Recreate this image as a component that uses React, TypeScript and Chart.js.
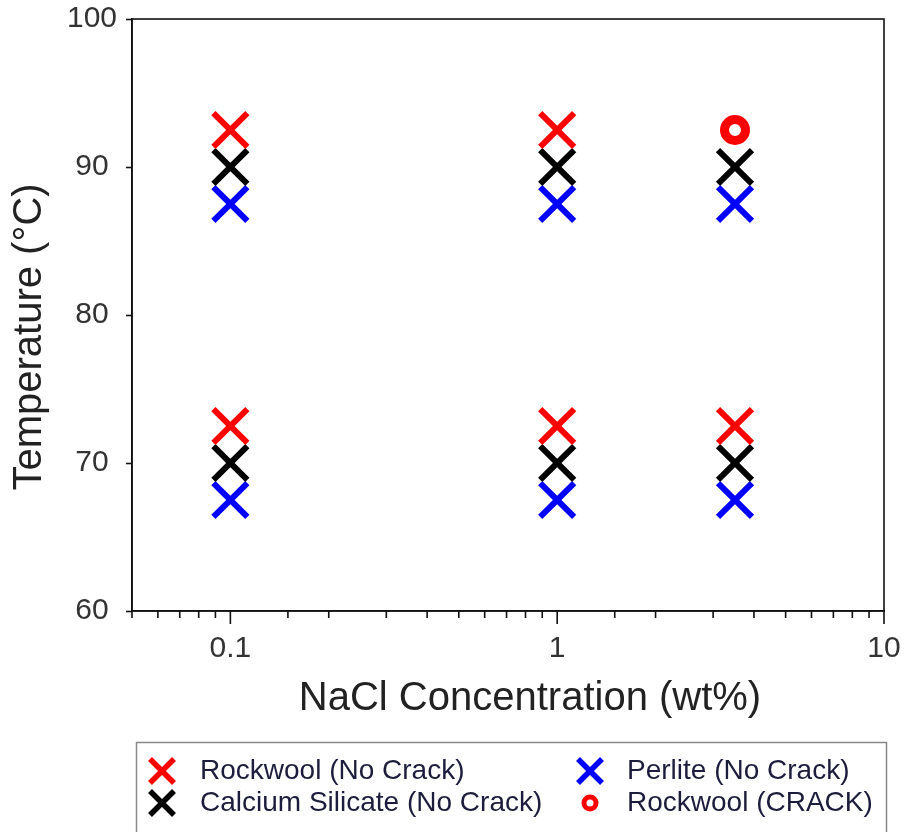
import React, { useEffect, useRef } from "react";
import { Chart, registerables, ScatterController } from "chart.js";

Chart.register(...registerables);

// Scatter controller that does not ask the layout for extra room for big markers
class ScatterNoPad extends (ScatterController as any) {
  getMaxOverflow() {
    return 0;
  }
}
(ScatterNoPad as any).id = "scatterNoPad";
(ScatterNoPad as any).defaults = (ScatterController as any).defaults;
(ScatterNoPad as any).overrides = (ScatterController as any).overrides;
Chart.register(ScatterNoPad as any);

// ---- data ----
const concentrations = [0.1, 1, 3.5];
const xTickLabels = ["0.1", "1", "10"];
const yTicks = [60, 70, 80, 90, 100];

const rockwoolNoCrackX = [0.1, 1, 0.1, 1, 3.5];
const rockwoolNoCrackY = [92.5, 92.5, 72.5, 72.5, 72.5];

const calciumSilicateX = [0.1, 1, 3.5, 0.1, 1, 3.5];
const calciumSilicateY = [90, 90, 90, 70, 70, 70];

const perliteX = [0.1, 1, 3.5, 0.1, 1, 3.5];
const perliteY = [87.5, 87.5, 87.5, 67.5, 67.5, 67.5];

const rockwoolCrackX = [3.5];
const rockwoolCrackY = [92.5];

const seriesNames = [
  "Rockwool (No Crack)",
  "Calcium Silicate (No Crack)",
  "Perlite (No Crack)",
  "Rockwool (CRACK)",
];

const xTitle = "NaCl Concentration (wt%)";
const yTitle = "Temperature (°C)";

const FONT = '"Liberation Sans", Arial, sans-serif';

const zip = (xs: number[], ys: number[]) => xs.map((x, i) => ({ x, y: ys[i] }));

const isPow10 = (v: number) => Math.abs(Math.log10(v) - Math.round(Math.log10(v))) < 1e-6;

const framePlugin = {
  id: "frameAndTicks",
  afterDraw(chart: any) {
    const { ctx, chartArea } = chart;
    const xs = chart.scales.x;
    ctx.save();
    ctx.strokeStyle = "#111";
    ctx.lineWidth = 1.6;
    ctx.strokeRect(chartArea.left, chartArea.top, chartArea.right - chartArea.left, chartArea.bottom - chartArea.top);
    // x log ticks: long for decades, short for minor
    ctx.beginPath();
    xs.ticks.forEach((t: any) => {
      const px = xs.getPixelForValue(t.value);
      const len = isPow10(t.value) ? 13 : 7;
      ctx.moveTo(px, chartArea.bottom);
      ctx.lineTo(px, chartArea.bottom + len);
    });
    ctx.stroke();
    ctx.restore();

    // axis titles
    ctx.save();
    ctx.fillStyle = "#222";
    ctx.font = `40px ${FONT}`;
    ctx.textAlign = "center";
    ctx.textBaseline = "middle";
    ctx.fillText(xTitle, 530, 699);
    ctx.translate(30, 337);
    ctx.rotate(-Math.PI / 2);
    ctx.fillText(yTitle, 0, 0);
    ctx.restore();

    // legend
    const L = { left: 136, top: 742, right: 886, bottom: 860 };
    ctx.save();
    ctx.strokeStyle = "#888";
    ctx.lineWidth = 1.5;
    ctx.strokeRect(L.left + 0.5, L.top + 0.5, L.right - L.left, L.bottom - L.top);
    const items = [
      { ds: 0, col: 0, row: 0 },
      { ds: 2, col: 1, row: 0 },
      { ds: 1, col: 0, row: 1 },
      { ds: 3, col: 1, row: 1 },
    ];
    const colMarkerX = [162, 590];
    const colTextX = [200, 627];
    const rowY = [771, 803];
    ctx.font = `28px ${FONT}`;
    ctx.textBaseline = "middle";
    ctx.textAlign = "left";
    items.forEach((it) => {
      const ds = chart.data.datasets[it.ds];
      const mx = colMarkerX[it.col];
      const my = rowY[it.row];
      ctx.strokeStyle = ds.borderColor;
      if (ds.pointStyle === "crossRot") {
        ctx.lineWidth = 5.5;
        const h = 12;
        ctx.beginPath();
        ctx.moveTo(mx - h, my - h);
        ctx.lineTo(mx + h, my + h);
        ctx.moveTo(mx - h, my + h);
        ctx.lineTo(mx + h, my - h);
        ctx.stroke();
      } else {
        ctx.lineWidth = 5;
        ctx.beginPath();
        ctx.arc(mx, my, 6, 0, Math.PI * 2);
        ctx.stroke();
      }
      ctx.fillStyle = "#1c1c3c";
      ctx.fillText(ds.label, colTextX[it.col], my);
    });
    ctx.restore();
  },
};

export default function App() {
  const ref = useRef<HTMLCanvasElement | null>(null);

  useEffect(() => {
    if (!ref.current) return;
    const crossDs = (label: string, data: any[], color: string) => ({
      label,
      data,
      pointStyle: "crossRot",
      pointRadius: 24,
      pointHoverRadius: 24,
      borderWidth: 6,
      pointBorderWidth: 6,
      borderColor: color,
      backgroundColor: color,
    });
    const chart = new Chart(ref.current, {
      type: "scatterNoPad" as any,
      data: {
        datasets: [
          crossDs(seriesNames[0], zip(rockwoolNoCrackX, rockwoolNoCrackY), "#ff0000"),
          crossDs(seriesNames[1], zip(calciumSilicateX, calciumSilicateY), "#000000"),
          crossDs(seriesNames[2], zip(perliteX, perliteY), "#0000ff"),
          {
            label: seriesNames[3],
            data: zip(rockwoolCrackX, rockwoolCrackY),
            pointStyle: "circle",
            pointRadius: 10.5,
            pointHoverRadius: 10.5,
            borderWidth: 9,
            pointBorderWidth: 9,
            borderColor: "#ff0000",
            backgroundColor: "#ffffff",
          },
        ] as any,
      },
      options: {
        responsive: true,
        maintainAspectRatio: false,
        animation: false,
        layout: { padding: { left: 0, right: 22, top: 19, bottom: 106 } },
        plugins: {
          legend: { display: false },
          tooltip: { enabled: false },
        },
        scales: {
          x: {
            type: "logarithmic",
            min: 0.05,
            max: 10,
            afterFit: (s: any) => {
              s.height = 115;
              s.paddingLeft = 0;
              s.paddingRight = 0;
            },
            border: { display: true, color: "#111", width: 1.6 },
            grid: {
              display: true,
              drawOnChartArea: false,
              drawTicks: true,
              tickLength: 12,
              tickColor: "rgba(0,0,0,0)",
            },
            ticks: {
              autoSkip: false,
              maxRotation: 0,
              padding: 8,
              color: "#333",
              font: { family: FONT, size: 30 },
              callback: (v: any) => {
                const n = Number(v);
                if (!isPow10(n)) return "";
                const idx = Math.round(Math.log10(n)) + 1;
                return xTickLabels[idx] ?? "";
              },
            },
            title: { display: false, text: xTitle },
          },
          y: {
            type: "linear",
            min: yTicks[0],
            max: yTicks[yTicks.length - 1],
            afterFit: (s: any) => {
              s.width = 132;
              s.paddingTop = 0;
              s.paddingBottom = 0;
            },
            afterBuildTicks: (s: any) => {
              s.ticks = yTicks.map((v) => ({ value: v }));
            },
            border: { display: true, color: "#111", width: 1.6 },
            grid: {
              display: true,
              drawOnChartArea: false,
              drawTicks: true,
              tickLength: 6,
              tickColor: "#111",
              tickWidth: 1.6,
            },
            ticks: {
              padding: 9,
              crossAlign: "center",
              color: "#333",
              font: { family: FONT, size: 30 },
            },
            title: { display: false, text: yTitle },
          },
        },
      },
      plugins: [framePlugin],
    });
    return () => chart.destroy();
  }, []);

  return (
    <div style={{ position: "fixed", left: 0, top: 0, width: 906, height: 832, background: "#fff" }}>
      <canvas ref={ref} />
    </div>
  );
}
